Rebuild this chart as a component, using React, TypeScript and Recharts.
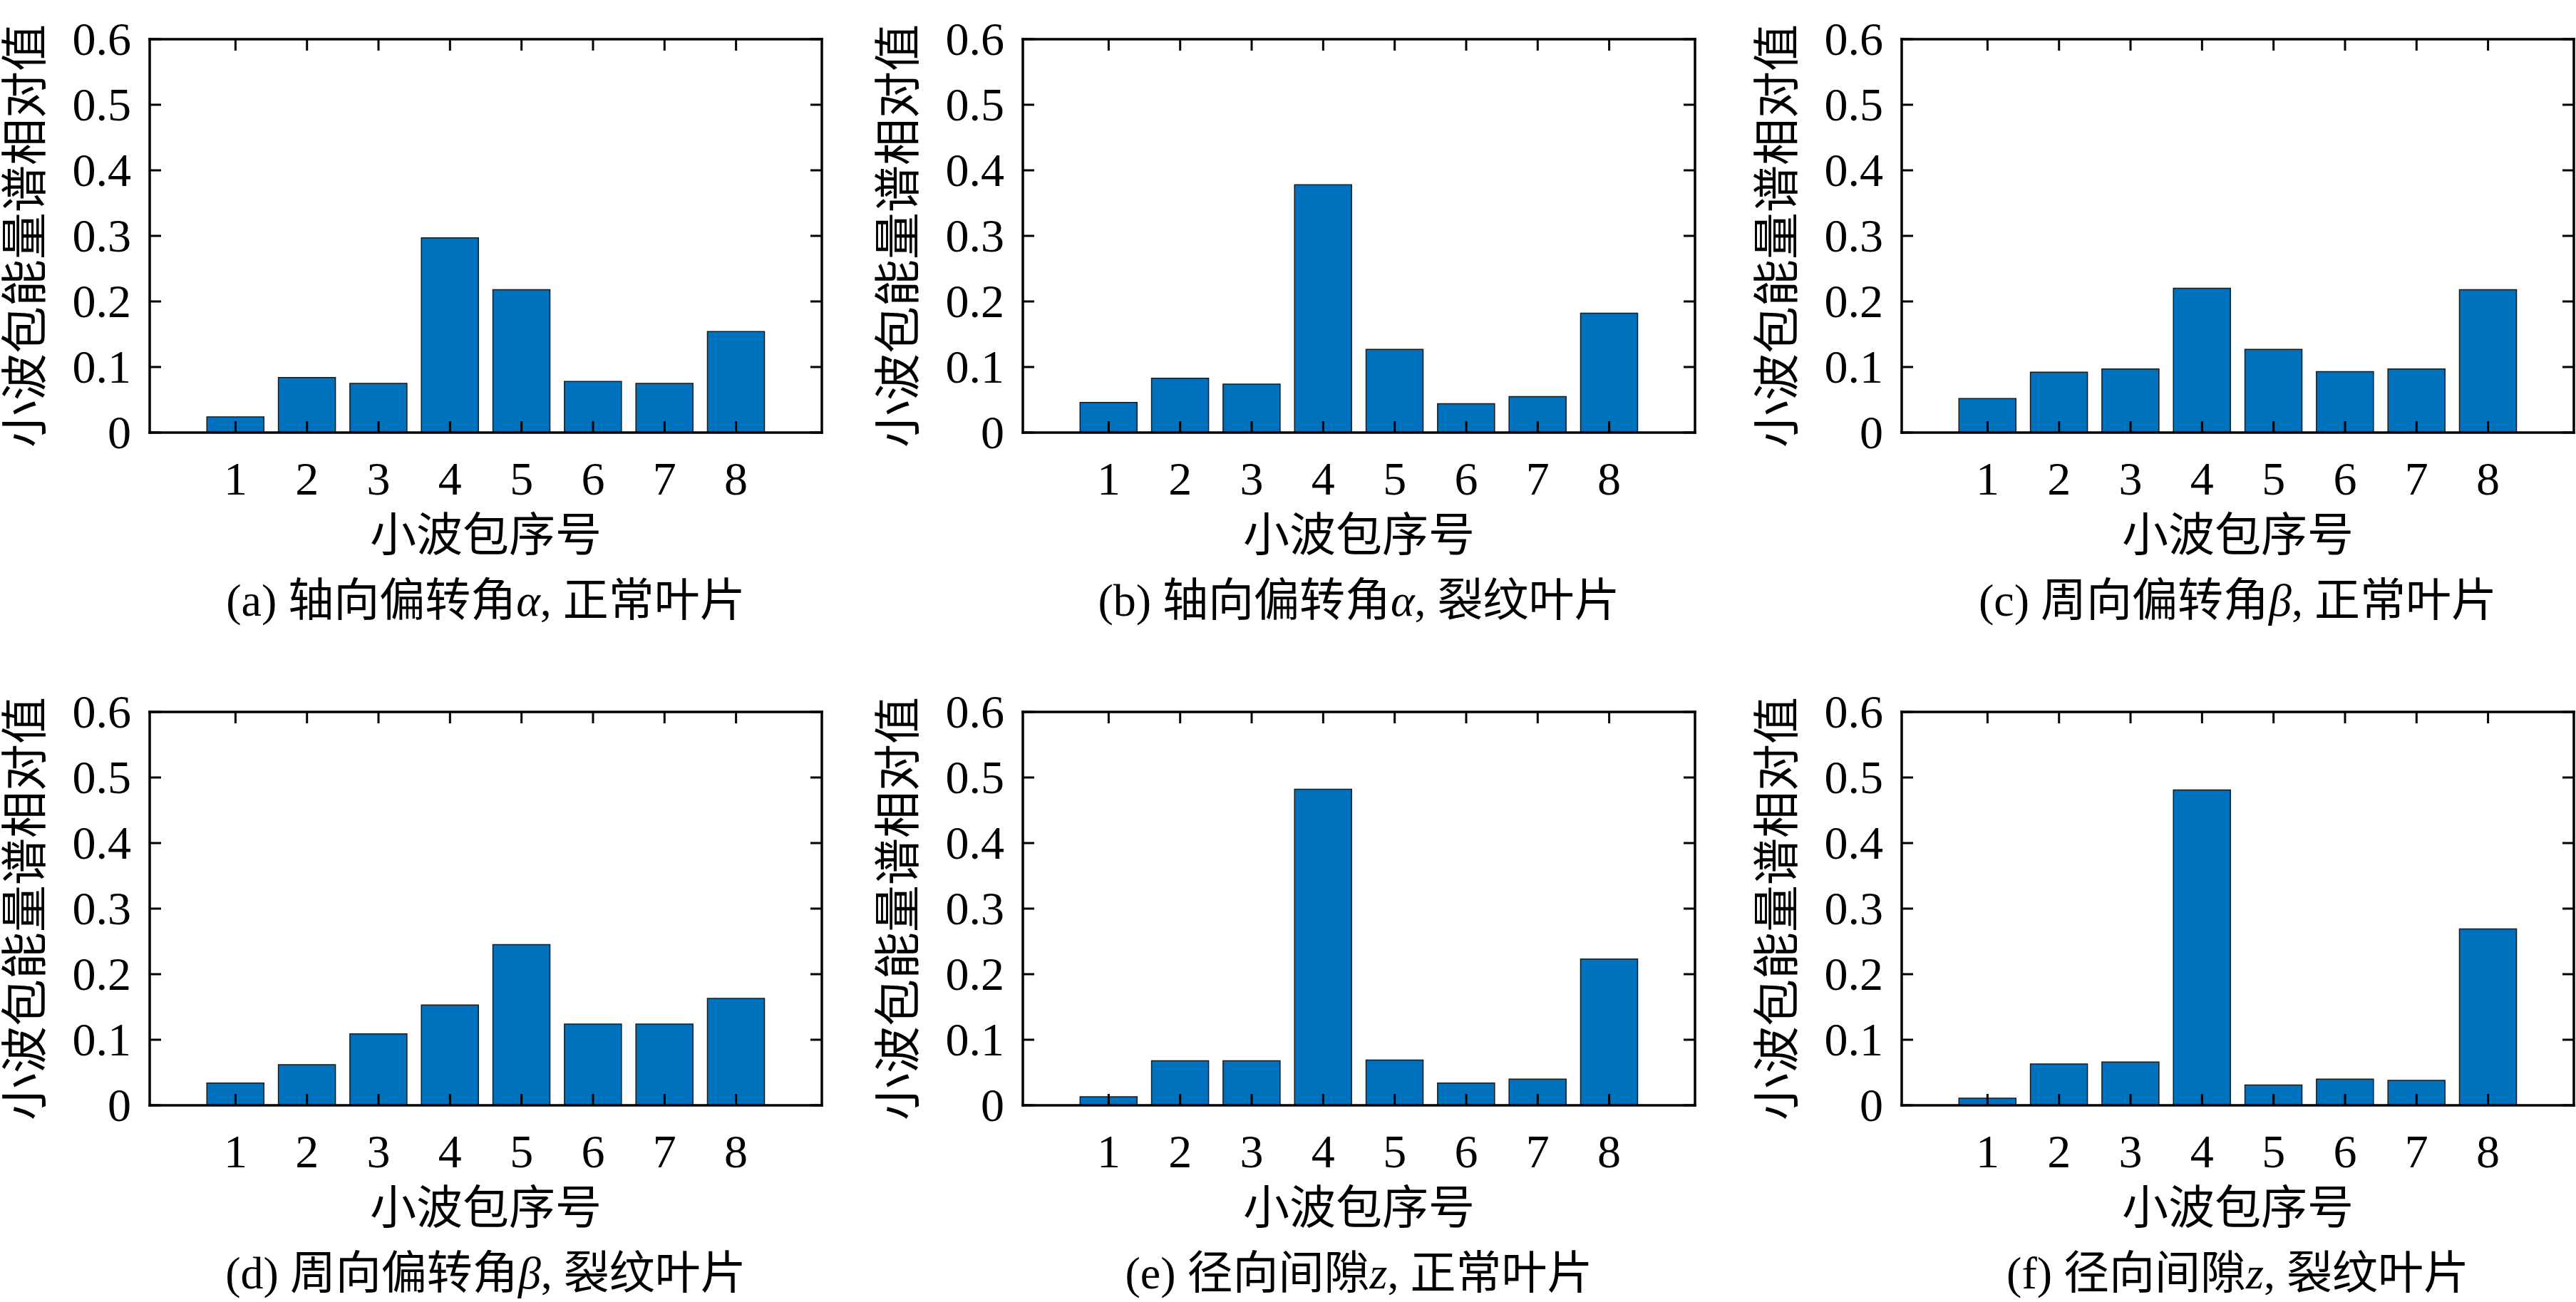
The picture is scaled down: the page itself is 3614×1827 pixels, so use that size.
import React from "react";
import { BarChart, Bar, XAxis, YAxis } from "recharts";

const CATEGORIES = [1, 2, 3, 4, 5, 6, 7, 8];
const Y_TICKS = [0, 0.1, 0.2, 0.3, 0.4, 0.5, 0.6];
const X_DOMAIN: [number, number] = [-0.2, 9.2];
const Y_DOMAIN: [number, number] = [0, 0.6];

const SERIES_A = [0.024, 0.084, 0.075, 0.297, 0.218, 0.078, 0.075, 0.154];
const SERIES_B = [0.046, 0.083, 0.074, 0.378, 0.127, 0.044, 0.055, 0.182];
const SERIES_C = [0.052, 0.092, 0.097, 0.22, 0.127, 0.093, 0.097, 0.218];
const SERIES_D = [0.034, 0.062, 0.109, 0.153, 0.245, 0.124, 0.124, 0.163];
const SERIES_E = [0.013, 0.068, 0.068, 0.482, 0.069, 0.034, 0.04, 0.223];
const SERIES_F = [0.011, 0.063, 0.066, 0.481, 0.031, 0.04, 0.038, 0.269];

const Y_LABEL = "小波包能量谱相对值";
const X_LABEL = "小波包序号";

const PANELS = [
  { tag: "(a) ", pre: "轴向偏转角", sym: "α", post: ", 正常叶片", values: SERIES_A },
  { tag: "(b) ", pre: "轴向偏转角", sym: "α", post: ", 裂纹叶片", values: SERIES_B },
  { tag: "(c) ", pre: "周向偏转角", sym: "β", post: ", 正常叶片", values: SERIES_C },
  { tag: "(d) ", pre: "周向偏转角", sym: "β", post: ", 裂纹叶片", values: SERIES_D },
  { tag: "(e) ", pre: "径向间隙", sym: "z", post: ", 正常叶片", values: SERIES_E },
  { tag: "(f) ", pre: "径向间隙", sym: "z", post: ", 裂纹叶片", values: SERIES_F },
];

const FONT = "'Liberation Serif', 'Noto Sans CJK SC', serif";
const BAR_COLOR = "#0072BD";
const TICK_LEN = 16;

const PLOT_W = 943;
const PLOT_H = 552;
const PAD_L = 205;
const PAD_T = 50;
const PAD_R = 10;
const PAD_B = 272;
const CHART_W = PAD_L + PLOT_W + PAD_R;
const CHART_H = PAD_T + PLOT_H + PAD_B;
const COL_LEFT = [210, 1435, 2668];
const ROW_TOP = [55, 999];

const fmtY = (v: number) => (v === 0 ? "0" : v.toFixed(1));

const BottomTick = (p: any) => (
  <g>
    <line x1={p.x} y1={p.y} x2={p.x} y2={p.y - TICK_LEN} stroke="#000" strokeWidth={3} />
    <text x={p.x} y={p.y + 87} textAnchor="middle" fontSize={66} fontFamily={FONT} fill="#000">
      {p.payload.value}
    </text>
  </g>
);
const TopTick = (p: any) => (
  <line x1={p.x} y1={p.y} x2={p.x} y2={p.y + TICK_LEN} stroke="#000" strokeWidth={3} />
);
const LeftTick = (p: any) => (
  <g>
    <line x1={p.x} y1={p.y} x2={p.x + TICK_LEN} y2={p.y} stroke="#000" strokeWidth={3} />
    <text x={p.x - 26} y={p.y + 22} textAnchor="end" fontSize={66} fontFamily={FONT} fill="#000">
      {fmtY(p.payload.value)}
    </text>
  </g>
);
const RightTick = (p: any) => (
  <line x1={p.x} y1={p.y} x2={p.x - TICK_LEN} y2={p.y} stroke="#000" strokeWidth={3} />
);

const axisLine = { stroke: "#000", strokeWidth: 3.5, strokeLinecap: "square" as const };

function Panel({ panel, left, top }: { panel: (typeof PANELS)[number]; left: number; top: number }) {
  const data = CATEGORIES.map((c, i) => ({ x: c, v: panel.values[i] }));
  const cx = PAD_L + PLOT_W / 2;
  const plotBottom = PAD_T + PLOT_H;
  const ylx = PAD_L - 175;
  const yly = PAD_T + PLOT_H / 2;
  return (
    <div style={{ position: "absolute", left: left - PAD_L, top: top - PAD_T, width: CHART_W, height: CHART_H }}>
      <BarChart
        width={CHART_W}
        height={CHART_H}
        data={data}
        margin={{ top: PAD_T - 10, left: PAD_L - 10, right: PAD_R - 10, bottom: PAD_B - 10 }}
      >
        <Bar
          dataKey="v"
          xAxisId="b"
          yAxisId="l"
          fill={BAR_COLOR}
          stroke="#1a1a1a"
          strokeWidth={1.5}
          isAnimationActive={false}
        />
        <XAxis
          xAxisId="b"
          dataKey="x"
          type="number"
          domain={X_DOMAIN}
          ticks={CATEGORIES}
          interval={0}
          orientation="bottom"
          height={10}
          tickSize={0}
          tickMargin={0}
          tickLine={false}
          axisLine={axisLine}
          tick={BottomTick}
          allowDataOverflow
        />
        <XAxis
          xAxisId="t"
          dataKey="x"
          type="number"
          domain={X_DOMAIN}
          ticks={CATEGORIES}
          interval={0}
          orientation="top"
          height={10}
          tickSize={0}
          tickMargin={0}
          tickLine={false}
          axisLine={axisLine}
          tick={TopTick}
          allowDataOverflow
        />
        <YAxis
          yAxisId="l"
          type="number"
          domain={Y_DOMAIN}
          ticks={Y_TICKS}
          interval={0}
          orientation="left"
          width={10}
          tickSize={0}
          tickMargin={0}
          tickLine={false}
          axisLine={axisLine}
          tick={LeftTick}
          allowDataOverflow
        />
        <YAxis
          yAxisId="r"
          type="number"
          domain={Y_DOMAIN}
          ticks={Y_TICKS}
          interval={0}
          orientation="right"
          width={10}
          tickSize={0}
          tickMargin={0}
          tickLine={false}
          axisLine={axisLine}
          tick={RightTick}
          allowDataOverflow
        />
      </BarChart>
      <svg
        width={CHART_W}
        height={CHART_H}
        style={{ position: "absolute", left: 0, top: 0, pointerEvents: "none", overflow: "visible" }}
        fontFamily={FONT}
      >
        <text
          x={ylx}
          y={yly}
          fontSize={66}
          textAnchor="middle"
          dominantBaseline="central"
          transform={`rotate(-90, ${ylx}, ${yly})`}
          fill="#000"
        >
          {Y_LABEL}
        </text>
        <text x={cx} y={plotBottom + 166} fontSize={65} textAnchor="middle" fill="#000">
          {X_LABEL}
        </text>
        <text x={cx} y={plotBottom + 257} fontSize={64} textAnchor="middle" fill="#000">
          {panel.tag}
          {panel.pre}
          <tspan fontStyle="italic">{panel.sym}</tspan>
          {panel.post}
        </text>
      </svg>
    </div>
  );
}

export default function App() {
  return (
    <div
      style={{
        position: "absolute",
        left: 0,
        top: 0,
        width: 3614,
        height: 1827,
        overflow: "hidden",
        background: "#fff",
      }}
    >
      {PANELS.map((p, i) => (
        <Panel key={i} panel={p} left={COL_LEFT[i % 3]} top={ROW_TOP[Math.floor(i / 3)]} />
      ))}
    </div>
  );
}
